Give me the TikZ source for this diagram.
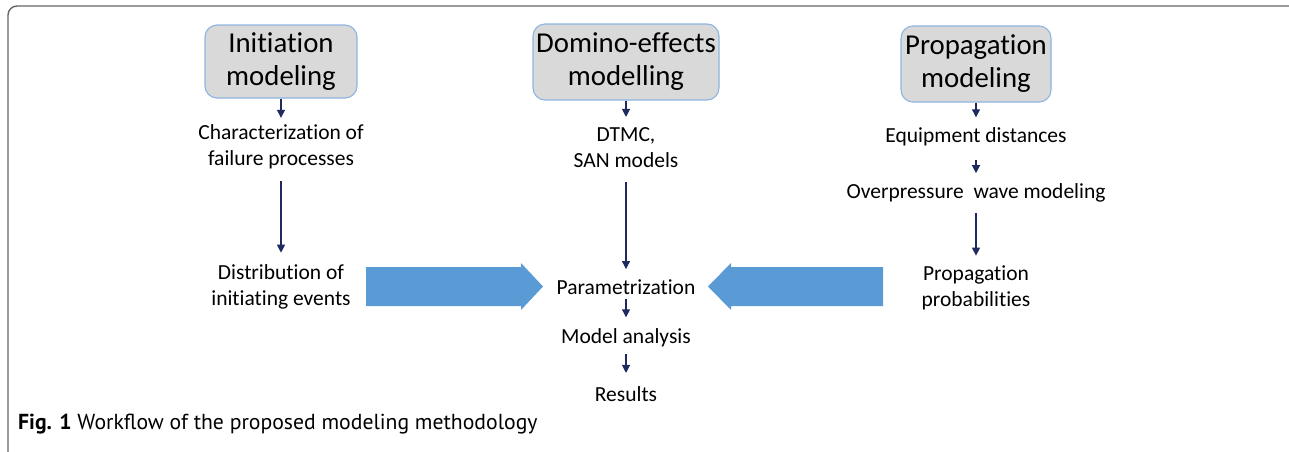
\documentclass[tikz,border=0pt]{standalone}
\usepackage{fontspec}
\setmainfont{Carlito}[Ligatures={NoCommon}]
\newfontfamily\capfont{PT Sans}
\usetikzlibrary{arrows.meta}
\definecolor{navy}{HTML}{1F2A5E}
\definecolor{boxfill}{HTML}{D9D9D9}
\definecolor{boxline}{HTML}{8DB3E2}
\definecolor{bigblue}{HTML}{5B9BD5}
\definecolor{framegray}{HTML}{666666}
\begin{document}
\begin{tikzpicture}[x=1pt,y=-1pt,
  hbox/.style={draw=boxline, fill=boxfill, line width=1.1pt, rounded corners=12pt,
    inner sep=0pt, align=center, font=\fontsize{28.8}{33}\selectfont},
  txt/.style={inner sep=0pt, outer sep=0pt, align=center, font=\fontsize{21.5}{26}\selectfont},
  arr/.style={navy, line width=1.2pt, -{Triangle[width=8pt,length=8pt]}},
  fat/.style={fill=bigblue, draw=none},
  framestyle/.style={draw=framegray, line width=1.4pt, rounded corners=9pt}]
\useasboundingbox (0,0) rectangle (1289,451);
\draw[framestyle] (8,453) -- (8,6) -- (1291,6);

% header boxes
\node[hbox, minimum width=152pt, minimum height=73pt] (b1) at (281,61.5) {Initiation\\modeling};
\node[hbox, minimum width=186pt, minimum height=76pt] (b2) at (626,62) {Domino-effects\\modelling};
\node[hbox, minimum width=150pt, minimum height=76pt] (b3) at (976,64) {Propagation\\modeling};

% left column
\node[txt] (t1) at (281,147) {Characterization of\\failure processes};
\node[txt] (t2) at (281,286.5) {Distribution of\\initiating events};
% centre column
\node[txt] (t3) at (626,147.5) {DTMC,\\SAN models};
\node[txt] (t4) at (626,287) {Parametrization};
\node[txt] (t5) at (626,338) {Model analysis};
\node[txt] (t6) at (626,394) {Results};
% right column
\node[txt] (t7) at (976,137) {Equipment distances};
\node[txt] (t8) at (976,192.5) {Overpressure\hspace{5pt} wave modeling};
\node[txt] (t9) at (976,287.5) {Propagation\\probabilities};

% connectors
\draw[arr, shorten >=7pt] (b1.south) -- (t1.north);
\draw[arr, shorten <=12pt, shorten >=11.5pt] (t1.south) -- (t2.north);
\draw[arr, shorten >=10.5pt] (b2.south) -- (t3.north);
\draw[arr, shorten <=14.5pt, shorten >=10.5pt] (t3.south) -- (t4.north);
\draw[arr, shorten <=5pt, shorten >=11.5pt] (t4.south) -- (t5.north);
\draw[arr, shorten <=6.5pt, shorten >=13.5pt] (t5.south) -- (t6.north);
\draw[arr, shorten >=10.5pt] (b3.south) -- (t7.north);
\draw[arr, shorten <=13.5pt, shorten >=10pt] (t7.south) -- (t8.north);
\draw[arr, shorten <=11pt, shorten >=9.75pt] (t8.south) -- (t9.north);

% block arrows
\fill[fat] (366,267) -- (521,267) -- (521,263) -- (543,286.5) -- (521,310) -- (521,306) -- (366,306) -- cycle;
\fill[fat] (883,267) -- (731,267) -- (731,263) -- (708,286.5) -- (731,310) -- (731,306) -- (883,306) -- cycle;

% caption
\node[anchor=west, inner sep=0pt, font=\capfont\fontsize{21.7}{25}\selectfont] (cap) at (18,424)
  {\textbf{Fig. 1} Workflow of the proposed modeling methodology};
\end{tikzpicture}
\end{document}
